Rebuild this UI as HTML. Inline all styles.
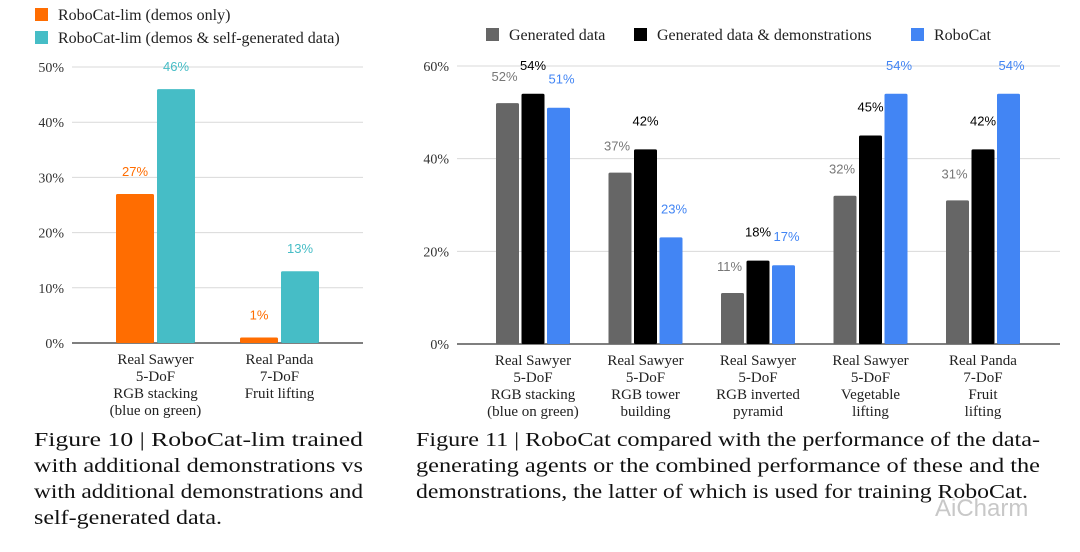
<!DOCTYPE html>
<html><head><meta charset="utf-8"><style>
html,body{margin:0;padding:0;background:#fff;width:1080px;height:552px;overflow:hidden}
svg{display:block}
.ser{font-family:"Liberation Serif",serif}
.san{font-family:"Liberation Sans",sans-serif}
</style></head><body>
<svg id="s" width="1080" height="552" xmlns="http://www.w3.org/2000/svg">
<g id="left"></g>
<g id="right"></g>
<g class="ser" font-size="20" fill="#111">
<text x="34" y="446" textLength="329" lengthAdjust="spacingAndGlyphs">Figure 10 | RoboCat-lim trained</text>
<text x="34" y="472" textLength="329" lengthAdjust="spacingAndGlyphs">with additional demonstrations vs</text>
<text x="34" y="498" textLength="329" lengthAdjust="spacingAndGlyphs">with additional demonstrations and</text>
<text x="34" y="524" textLength="188" lengthAdjust="spacingAndGlyphs">self-generated data.</text>
</g>
<g class="ser" font-size="20" fill="#111">
<text x="416" y="446" textLength="624" lengthAdjust="spacingAndGlyphs">Figure 11 | RoboCat compared with the performance of the data-</text>
<text x="416" y="472" textLength="624" lengthAdjust="spacingAndGlyphs">generating agents or the combined performance of these and the</text>
<text x="416" y="498" textLength="612" lengthAdjust="spacingAndGlyphs">demonstrations, the latter of which is used for training RoboCat.</text>
</g>
<text x="935" y="516" class="san" font-size="24" fill="#c8c8c8">AiCharm</text>
</svg>
<script>
// Figure 10 data
const catsL = [["Real Sawyer","5-DoF","RGB stacking","(blue on green)"],["Real Panda","7-DoF","Fruit lifting"]];
const seriesL1 = [27, 1];
const seriesL2 = [46, 13];
const ticksL = [0,10,20,30,40,50];
// Figure 11 data
const catsR = [["Real Sawyer","5-DoF","RGB stacking","(blue on green)"],["Real Sawyer","5-DoF","RGB tower","building"],["Real Sawyer","5-DoF","RGB inverted","pyramid"],["Real Sawyer","5-DoF","Vegetable","lifting"],["Real Panda","7-DoF","Fruit","lifting"]];
const seriesGen = [52,37,11,32,31];
const seriesGenDemo = [54,42,18,45,42];
const seriesRobo = [51,23,17,54,54];
const ticksR = [0,20,40,60];

const NS="http://www.w3.org/2000/svg";
function mk(p,t,a,txt){const e=document.createElementNS(NS,t);for(const k in a)e.setAttribute(k,a[k]);if(txt!==undefined)e.textContent=txt;p.appendChild(e);return e;}

function chart(g,o){
  const y=v=>o.y0-(v/o.max)*(o.y0-o.yTop);
  o.ticks.forEach(t=>{
    const ln=mk(g,'line',{x1:o.x0,x2:o.x1,y1:y(t),y2:y(t),stroke:t===0?'#555':'#d9d9d9','stroke-width':t===0?1.6:1});
    
    
    const tx=mk(g,'text',{x:o.x0-8,y:y(t)+5,'text-anchor':'end','font-size':14,fill:'#333',class:'ser'},t+'%');
    
    
  });
  o.cats.forEach((c,i)=>{
    const cx=o.c0+o.step*i;
    const tot=o.series.length*o.bw+(o.series.length-1)*o.gap;
    o.series.forEach((s,j)=>{
      const bx=cx-tot/2+j*(o.bw+o.gap);
      const r=mk(g,'rect',{x:bx,y:y(s.v[i]),width:o.bw,height:y(0)-y(s.v[i]),fill:s.c,rx:1.5});
      
      
      const t=mk(g,'text',{x:bx+o.bw/2+(s.dx||0),y:y(s.v[i])-o.lblOff-(s.dy||0),'text-anchor':'middle','font-size':13,fill:s.lc,class:'san'},s.v[i]+'%');
      
      
    });
    c.forEach((l,k)=>{
      const t=mk(g,'text',{x:cx,y:o.y0+21+k*17,'text-anchor':'middle','font-size':15,fill:'#222',class:'ser'},l);
      
      
    });
  });
}
const L=document.getElementById('left'), R=document.getElementById('right');
chart(L,{x0:72,x1:363,y0:343,yTop:67,max:50,ticks:ticksL,cats:catsL,c0:155.5,step:124,bw:38,gap:3,lblOff:18,
  series:[{v:seriesL1,c:'#ff6d01',lc:'#ff6d01'},{v:seriesL2,c:'#46bdc6',lc:'#46bdc6'}]});
chart(R,{x0:457,x1:1060,y0:344,yTop:66,max:60,ticks:ticksR,cats:catsR,c0:533,step:112.5,bw:23,gap:2.5,lblOff:12,
  series:[{v:seriesGen,c:'#666666',lc:'#777',dx:-3,dy:10},{v:seriesGenDemo,c:'#000',lc:'#000',dy:12},{v:seriesRobo,c:'#4285f4',lc:'#4285f4',dx:3,dy:12}]});
function leg(x,y,c,txt,fs){
  const r=mk(document.getElementById('s'),'rect',{x:x,y:y-12,width:13,height:13,fill:c});
  
  
  const t=mk(document.getElementById('s'),'text',{x:x+23,y:y,'font-size':fs,fill:'#222',class:'ser'},txt);
  
  
}
leg(35,20,'#ff6d01','RoboCat-lim (demos only)',16);
leg(35,43,'#46bdc6','RoboCat-lim (demos & self-generated data)',16);
leg(486,40,'#666666','Generated data',16);
leg(634,40,'#000','Generated data & demonstrations',16);
leg(911,40,'#4285f4','RoboCat',16);
</script>
</body></html>
